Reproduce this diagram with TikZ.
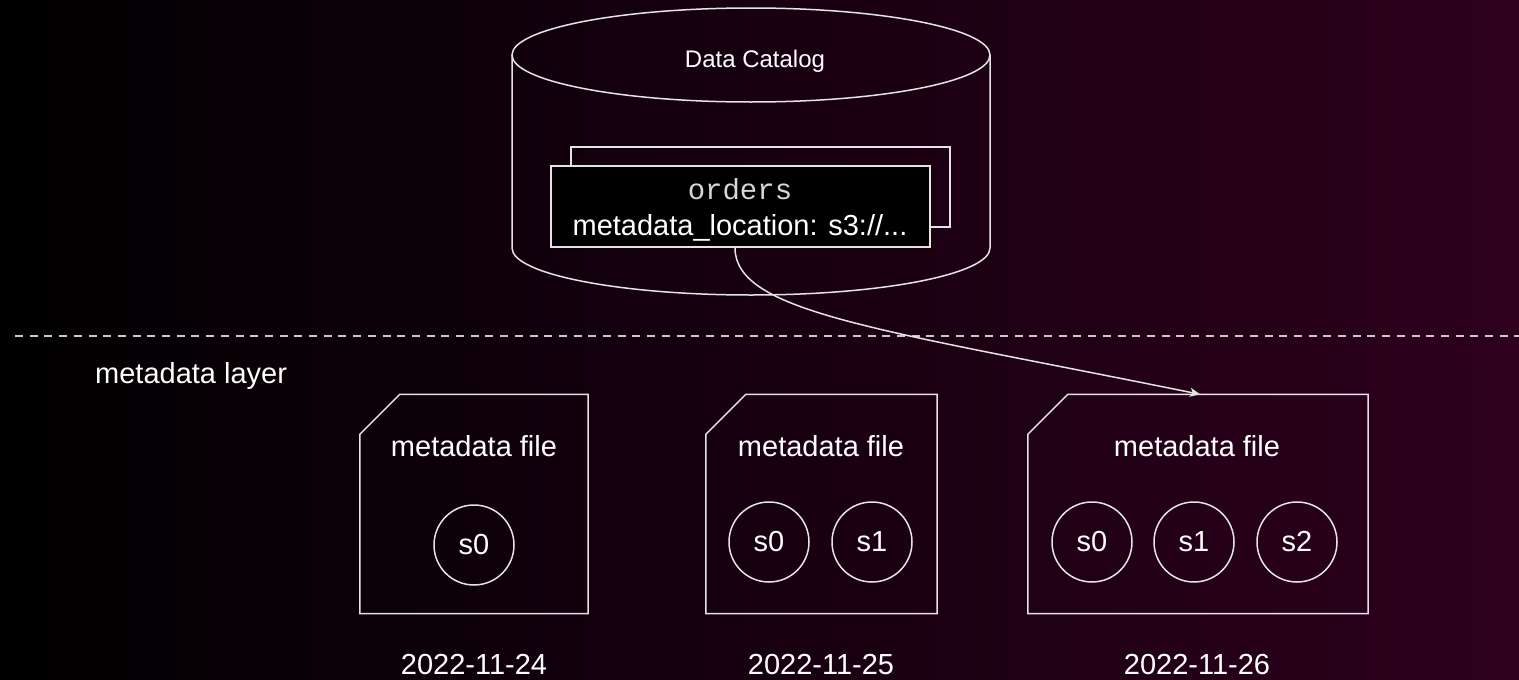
\documentclass[tikz,border=0pt]{standalone}
\usepackage{fontspec}
\setmainfont{Liberation Sans}
\setmonofont{Liberation Mono}
\usetikzlibrary{arrows.meta}

\definecolor{bgmid}{RGB}{10,0,6}
\definecolor{bgright}{RGB}{46,0,30}
\definecolor{stroke}{RGB}{228,228,228}
\definecolor{dashgray}{RGB}{200,200,200}
\definecolor{monogray}{RGB}{215,215,215}

\tikzset{
  outline/.style={draw=stroke, line width=1.5pt},
  bodytext/.style={text=white, inner sep=0pt, font=\fontsize{29}{34}\selectfont},
  smalltext/.style={text=white, inner sep=0pt, font=\fontsize{24}{28}\selectfont},
  monotext/.style={text=monogray, inner sep=0pt, font=\ttfamily\fontsize{29}{34}\selectfont},
  filebox/.style={minimum height=219pt, inner sep=0pt},
  snap/.style={outline, circle, minimum size=80pt, inner sep=0pt,
    text=white, font=\fontsize{29}{34}\selectfont},
  tablebox/.style={outline, fill=black, minimum width=379pt, minimum height=81pt, inner sep=0pt},
  link/.style={draw=stroke, line width=1.5pt, -{Stealth[length=10pt, width=9pt, inset=2.5pt]}},
}

\newcommand{\chamferfile}[1]{%
  \draw[outline] ([xshift=40pt]#1.north west) -- (#1.north east) -- (#1.south east)
    -- (#1.south west) -- ([yshift=-40pt]#1.north west) -- cycle;}

\begin{document}
\begin{tikzpicture}[x=1pt, y=-1pt]
  % canvas and background
  \useasboundingbox (0,0) rectangle (1519,680);
  \shade[left color=black, middle color=bgmid, right color=bgright] (0,0) rectangle (1519,680);

  % catalog cylinder
  \draw[outline] (751,55) ellipse [x radius=239pt, y radius=47pt];
  \draw[outline] (512,55) -- (512,248) arc[start angle=180, end angle=360, x radius=239pt, y radius=47pt] -- (990,55);
  \node[smalltext, anchor=base] (catalog) at (755,67) {Data Catalog};

  % table entry with a shadow copy behind it
  \draw[outline] (571,147) rectangle (950,227);
  \node[tablebox] (orders) at (740.5,206.5) {};
  \node[monotext, anchor=base] (ordname) at (740,199) {orders};
  \node[bodytext, anchor=base] (ordloc) at (740,235) {metadata\_location: s3://...};

  % layer separator
  \coordinate (sepL) at (15,336);
  \coordinate (sepR) at (1519,336);
  \draw[draw=dashgray, line width=2pt, dash pattern=on 8pt off 6.7pt] (sepL) -- (sepR);
  \node[bodytext, anchor=base west] (layer) at (95,383) {metadata layer};

  % metadata files
  \node[filebox, minimum width=228pt] (f1) at (474,504) {};
  \node[filebox, minimum width=231pt] (f2) at (821.5,504) {};
  \node[filebox, minimum width=340pt] (f3) at (1198,504) {};
  \chamferfile{f1}
  \chamferfile{f2}
  \chamferfile{f3}

  \node[bodytext, anchor=base] (t1) at (474,456) {metadata file};
  \node[bodytext, anchor=base] (t2) at (821,456) {metadata file};
  \node[bodytext, anchor=base] (t3) at (1197,456) {metadata file};

  % snapshots
  \node[snap] (a0) at (474,545) {s0};
  \node[snap] (b0) at (769,542) {s0};
  \node[snap] (b1) at (872,542) {s1};
  \node[snap] (c0) at (1092,542) {s0};
  \node[snap] (c1) at (1194,542) {s1};
  \node[snap] (c2) at (1297,542) {s2};

  % dates
  \node[bodytext, anchor=base] (d1) at (474,674) {2022-11-24};
  \node[bodytext, anchor=base] (d2) at (821,674) {2022-11-25};
  \node[bodytext, anchor=base] (d3) at (1197,674) {2022-11-26};

  % pointer from the catalog entry to the current metadata file
  \draw[link] ([xshift=-5.5pt]orders.south) .. controls +(0,65) and +(-320,-65) .. ([xshift=2pt]f3.north);
\end{tikzpicture}
\end{document}
